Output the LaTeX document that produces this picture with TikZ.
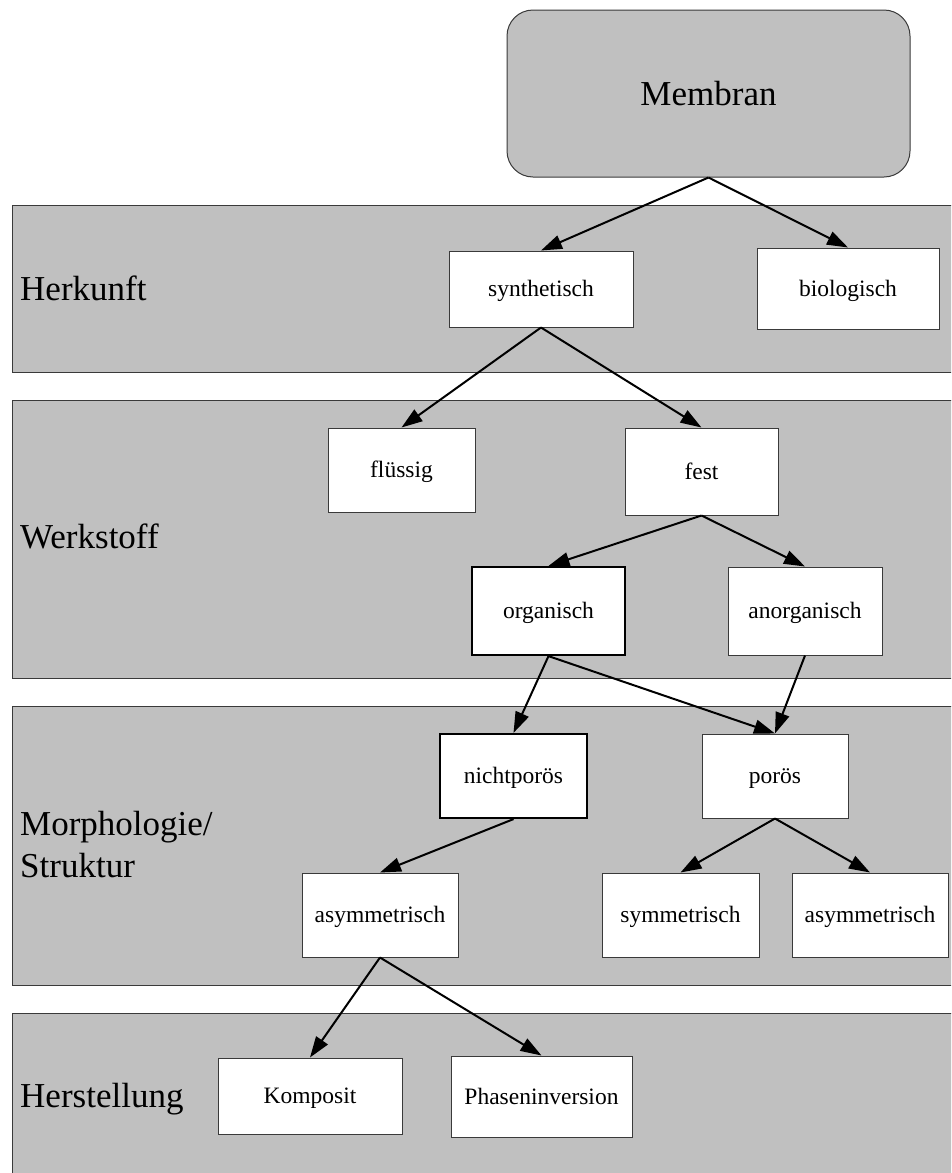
\documentclass[tikz,border=0pt]{standalone}
\usepackage{fontspec}
\setmainfont{Liberation Serif}
\usepackage{tikz}
\usetikzlibrary{arrows.meta,positioning}

\definecolor{bandgray}{HTML}{C0C0C0}
\definecolor{edgegray}{HTML}{3A3A3A}

\begin{document}
\begin{tikzpicture}[
    x=1pt, y=-1pt,
    band/.style={fill=bandgray, draw=edgegray, line width=1pt},
    box/.style={rectangle, draw=edgegray, fill=white, line width=1pt, inner sep=0pt,
        align=center, text height=15pt, text depth=0pt,
        font=\fontsize{23.5}{28}\selectfont},
    thickbox/.style={box, draw=black, line width=2.2pt},
    lbl/.style={anchor=base west, inner sep=0pt, align=left, font=\fontsize{35}{42}\selectfont},
    arr/.style={-{Triangle[length=21pt, width=14pt]}, line width=2pt, black}
]
\clip (0,0) rectangle (951,1173);

% Bereiche
\draw[band] (12,205) rectangle (970,372);
\draw[band] (12,400) rectangle (970,678);
\draw[band] (12,706) rectangle (970,985);
\draw[band] (12,1013) rectangle (970,1190);

\node[lbl] (herkunft) at (20,300) {Herkunft};
\node[lbl] (werkstoff) at (20,548) {Werkstoff};
\node[lbl] (morph) at (20,877) {Morphologie/\\Struktur};
\node[lbl] (herst) at (20,1107) {Herstellung};

% Wurzel
\node[rectangle, rounded corners=26pt, fill=bandgray, draw=edgegray, line width=1pt,
    minimum width=403pt, minimum height=167pt, text height=23pt, text depth=0pt,
    font=\fontsize{35}{42}\selectfont]
    (membran) at (708.5,93.5) {Membran};

% Herkunft
\node[box, minimum width=184pt, minimum height=76pt] (synth) at (541,289) {synthetisch};
\node[box, minimum width=182pt, minimum height=81pt] (bio) at (848,288.5) {biologisch};

% Werkstoff
\node[box, minimum width=147pt, minimum height=84pt] (fluessig) at (401.5,470) {flüssig};
\node[box, minimum width=153pt, minimum height=87pt] (fest) at (701.5,471.5) {fest};
\node[thickbox, minimum width=153pt, minimum height=88pt] (org) at (548.5,611) {organisch};
\node[box, minimum width=154pt, minimum height=88pt] (anorg) at (805,611) {anorganisch};

% Morphologie
\node[thickbox, minimum width=147pt, minimum height=84pt] (nichtpor) at (513.5,776) {nichtporös};
\node[box, minimum width=146pt, minimum height=84pt] (poroes) at (775,776) {porös};
\node[box, minimum width=156pt, minimum height=84pt] (asym1) at (380,915) {asymmetrisch};
\node[box, minimum width=157pt, minimum height=84pt] (sym) at (680.5,915) {symmetrisch};
\node[box, minimum width=156pt, minimum height=84pt] (asym2) at (870,915) {asymmetrisch};

% Herstellung
\node[box, minimum width=184pt, minimum height=76pt] (komp) at (310,1096) {Komposit};
\node[box, minimum width=181pt, minimum height=81pt] (phasen) at (541.5,1096.5) {Phaseninversion};

% Pfeile
\draw[arr] (membran.south) -- (synth.north);
\draw[arr] (membran.south) -- (bio.north);
\draw[arr] (synth.south) -- (fluessig.north);
\draw[arr] (synth.south) -- (fest.north);
\draw[arr] (fest.south) -- (org.north);
\draw[arr] (fest.south) -- (anorg.north);
\draw[arr] (org.south) -- (nichtpor.north);
\draw[arr] (org.south) -- (poroes.north);
\draw[arr] (anorg.south) -- (poroes.north);
\draw[arr] (nichtpor.south) -- (asym1.north);
\draw[arr] (poroes.south) -- (sym.north);
\draw[arr] (poroes.south) -- (asym2.north);
\draw[arr] (asym1.south) -- (komp.north);
\draw[arr] (asym1.south) -- (phasen.north);

\end{tikzpicture}
\end{document}
